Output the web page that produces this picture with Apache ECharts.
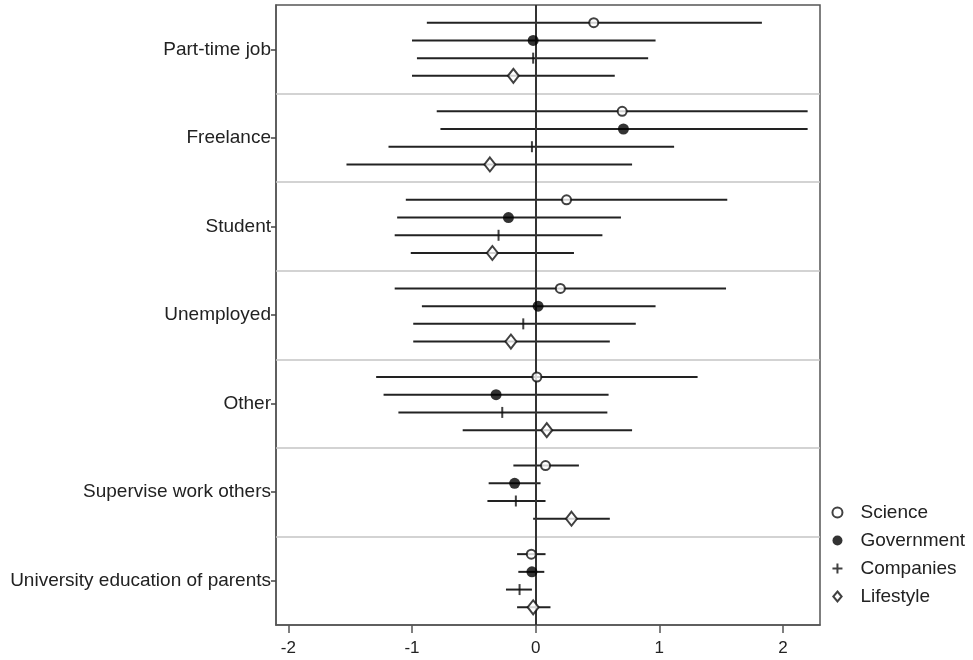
<!DOCTYPE html>
<html><head><meta charset="utf-8">
<script src="https://cdn.jsdelivr.net/npm/echarts@6/dist/echarts.min.js"></script>
<style>html,body{margin:0;padding:0;background:#fff}#c{width:973px;height:660px}</style>
</head><body><div id="c"></div>
<script>
const categories = ['Part-time job','Freelance','Student','Unemployed','Other','Supervise work others','University education of parents'];
const groups = ['Science','Government','Companies','Lifestyle'];
const xTicks = [-2, -1, 0, 1, 2];
const separators = [1, 2, 3, 4, 5, 6];

const scienceEst = [0.47, 0.70, 0.25, 0.20, 0.01, 0.08, -0.035];
const scienceLo  = [-0.88, -0.80, -1.05, -1.14, -1.29, -0.18, -0.15];
const scienceHi  = [1.83, 2.20, 1.55, 1.54, 1.31, 0.35, 0.08];

const governmentEst = [-0.02, 0.71, -0.22, 0.02, -0.32, -0.17, -0.03];
const governmentLo  = [-1.00, -0.77, -1.12, -0.92, -1.23, -0.38, -0.14];
const governmentHi  = [0.97, 2.20, 0.69, 0.97, 0.59, 0.04, 0.07];

const companiesEst = [-0.02, -0.03, -0.30, -0.10, -0.27, -0.16, -0.13];
const companiesLo  = [-0.96, -1.19, -1.14, -0.99, -1.11, -0.39, -0.24];
const companiesHi  = [0.91, 1.12, 0.54, 0.81, 0.58, 0.08, -0.03];

const lifestyleEst = [-0.18, -0.37, -0.35, -0.20, 0.09, 0.29, -0.02];
const lifestyleLo  = [-1.00, -1.53, -1.01, -0.99, -0.59, -0.02, -0.15];
const lifestyleHi  = [0.64, 0.78, 0.31, 0.60, 0.78, 0.60, 0.12];

const groupData = [
  {est: scienceEst, lo: scienceLo, hi: scienceHi},
  {est: governmentEst, lo: governmentLo, hi: governmentHi},
  {est: companiesEst, lo: companiesLo, hi: companiesHi},
  {est: lifestyleEst, lo: lifestyleLo, hi: lifestyleHi}
];

const INK = '#222';
const rowY = (k, g) => k + (g + 1) * 0.2;

const barData = [];
groupData.forEach((gd, g) => {
  categories.forEach((c, k) => { barData.push([gd.lo[k], gd.hi[k], rowY(k, g)]); });
});

const markerStyles = [
  {symbol: 'circle', symbolSize: 9, itemStyle: {color: '#fff', borderColor: '#111', borderWidth: 2}},
  {symbol: 'circle', symbolSize: 11, itemStyle: {color: '#000', borderWidth: 0}},
  {symbol: 'rect', symbolSize: [2, 11], itemStyle: {color: '#111', borderWidth: 0}},
  {symbol: 'diamond', symbolSize: [11, 14], itemStyle: {color: '#fff', borderColor: '#111', borderWidth: 2}}
];

const scatterSeries = groups.map((name, g) => Object.assign({
  name: name,
  type: 'scatter',
  z: 5,
  silent: true,
  data: categories.map((c, k) => [groupData[g].est[k], rowY(k, g)])
}, markerStyles[g]));

const chart = echarts.init(document.getElementById('c'), null, {renderer: 'canvas'});
chart.setOption({
  animation: false,
  backgroundColor: '#fff',
  textStyle: {fontFamily: 'Liberation Sans, Arial, sans-serif'},
  grid: {left: 276, right: 153, top: 5, bottom: 35, show: true, borderColor: '#555', borderWidth: 1.5, backgroundColor: 'transparent'},
  legend: {
    orient: 'vertical',
    right: 8, top: 503,
    padding: 0,
    itemWidth: 36, itemHeight: 10,
    symbolKeepAspect: true,
    itemGap: 9,
    selectedMode: false,
    textStyle: {fontSize: 19, color: '#222', lineHeight: 19, fontFamily: 'Liberation Sans, Arial, sans-serif'},
    data: [
      {name: 'Science', icon: 'circle'},
      {name: 'Government', icon: 'circle'},
      {name: 'Companies', icon: 'path://M4,0h2v4h4v2h-4v4h-2v-4h-4v-2h4z'},
      {name: 'Lifestyle', icon: 'path://M5,0L10,6L5,12L0,6Z'}
    ]
  },
  xAxis: {
    type: 'value', min: -2.1, max: 2.3,
    axisLine: {show: true, onZero: false, lineStyle: {color: '#555', width: 1.5}},
    axisTick: {show: true, length: 8, customValues: xTicks, lineStyle: {color: '#555', width: 1.5}},
    axisLabel: {customValues: xTicks, fontSize: 17, color: '#222', margin: 15, formatter: v => String(v)},
    splitLine: {show: false}
  },
  yAxis: {
    type: 'value', min: 0, max: 7, inverse: true,
    axisLine: {show: true, onZero: false, lineStyle: {color: '#555', width: 1.5}},
    axisTick: {show: true, length: 5, customValues: categories.map((c, k) => k + 0.5), lineStyle: {color: '#444', width: 1.5}},
    axisLabel: {customValues: categories.map((c, k) => k + 0.5), fontSize: 19, color: '#222', margin: 5,
      formatter: v => categories[Math.floor(v)]},
    splitLine: {show: false}
  },
  series: [
    {
      type: 'custom',
      name: 'bars',
      z: 3,
      silent: true,
      data: barData,
      encode: {x: [0, 1], y: 2},
      renderItem: function (params, api) {
        const p1 = api.coord([api.value(0), api.value(2)]);
        const p2 = api.coord([api.value(1), api.value(2)]);
        return {type: 'line', shape: {x1: p1[0], y1: p1[1], x2: p2[0], y2: p2[1]},
          style: {stroke: INK, lineWidth: 2}};
      },
      markLine: {
        silent: true, symbol: 'none', label: {show: false}, animation: false,
        data: separators.map(v => ({yAxis: v, lineStyle: {color: '#c4c4c4', width: 1.5, type: 'solid'}}))
          .concat([{xAxis: 0, lineStyle: {color: '#333', width: 2, type: 'solid'}}])
      }
    }
  ].concat(scatterSeries)
});
</script>
</body></html>
